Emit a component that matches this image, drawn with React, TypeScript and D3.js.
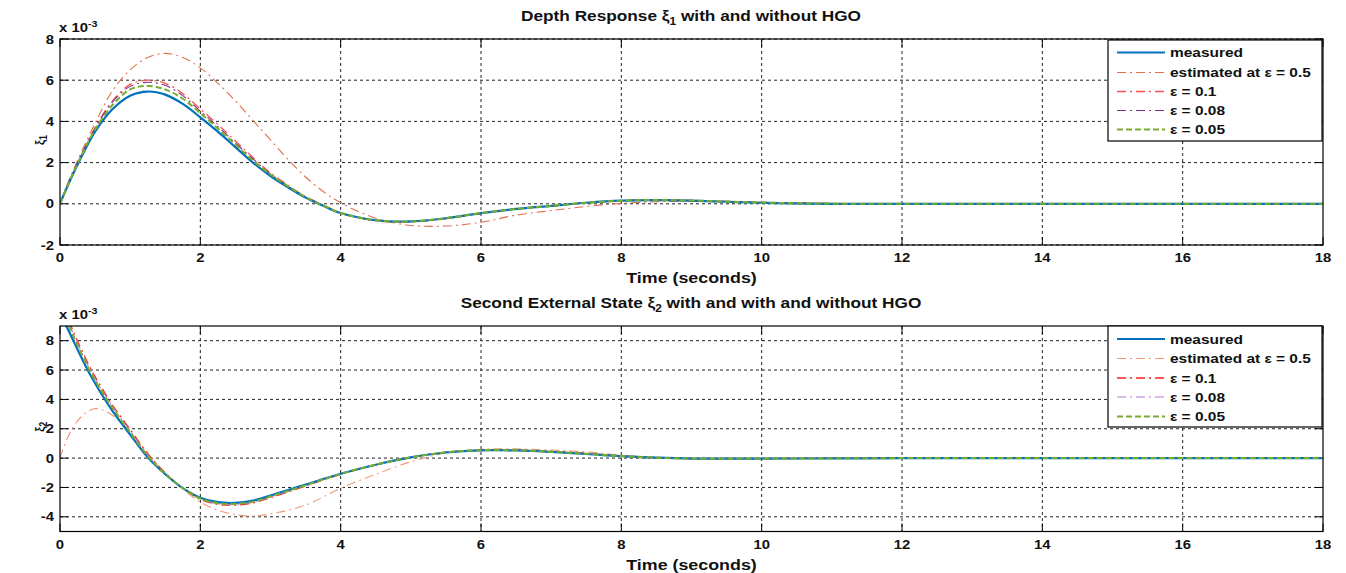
import React from "react";
import * as d3 from "d3";

// ---------- data: top panel (xi1, x 10^-3) ----------
const T1 = [0, 0.1, 0.25, 0.5, 0.75, 1.0, 1.25, 1.5, 1.75, 2.0, 2.25, 2.5, 2.75, 3.0, 3.25, 3.5, 3.75, 4.0, 4.5, 5.0, 5.5, 6.0, 6.5, 7.0, 7.5, 8.0, 8.5, 9.0, 9.5, 10, 11, 12, 14, 16, 18];
const xi1Measured = [0, 0.8, 1.9, 3.5, 4.6, 5.25, 5.45, 5.3, 4.85, 4.2, 3.5, 2.75, 2.0, 1.35, 0.8, 0.3, -0.1, -0.45, -0.8, -0.85, -0.7, -0.45, -0.25, -0.1, 0.05, 0.15, 0.18, 0.15, 0.1, 0.05, 0.0, 0, 0, 0, 0];
const xi1Est05 = [0, 0.9, 2.1, 3.9, 5.5, 6.5, 7.1, 7.3, 7.1, 6.6, 5.85, 5.0, 4.05, 3.1, 2.15, 1.3, 0.6, 0.05, -0.7, -1.05, -1.08, -0.9, -0.55, -0.33, -0.13, 0.02, 0.1, 0.12, 0.1, 0.06, 0.02, 0, 0, 0, 0];
const xi1Eps01 = [0, 0.85, 2.0, 3.7, 5.0, 5.8, 6.0, 5.85, 5.35, 4.6, 3.85, 3.05, 2.25, 1.5, 0.9, 0.35, -0.05, -0.45, -0.82, -0.88, -0.72, -0.47, -0.25, -0.1, 0.05, 0.15, 0.2, 0.17, 0.12, 0.07, 0.01, 0, 0, 0, 0];
const xi1Eps008 = [0, 0.85, 2.0, 3.65, 4.95, 5.7, 5.9, 5.75, 5.25, 4.5, 3.75, 2.95, 2.18, 1.45, 0.87, 0.33, -0.07, -0.45, -0.81, -0.87, -0.71, -0.46, -0.25, -0.1, 0.05, 0.15, 0.19, 0.16, 0.11, 0.06, 0.01, 0, 0, 0, 0];
const xi1Eps005 = [0, 0.82, 1.95, 3.6, 4.8, 5.55, 5.72, 5.55, 5.1, 4.4, 3.65, 2.88, 2.1, 1.42, 0.85, 0.32, -0.08, -0.45, -0.8, -0.86, -0.7, -0.45, -0.25, -0.1, 0.05, 0.15, 0.19, 0.16, 0.11, 0.06, 0.01, 0, 0, 0, 0];

// ---------- data: bottom panel (xi2, x 10^-3) ----------
const T2 = [0, 0.1, 0.2, 0.3, 0.4, 0.5, 0.6, 0.75, 1.0, 1.25, 1.5, 1.75, 2.0, 2.25, 2.5, 2.75, 3.0, 3.5, 4.0, 4.5, 5.0, 5.5, 6.0, 6.5, 7.0, 7.5, 8.0, 8.5, 9.0, 10, 11, 12, 14, 16, 18];
const xi2Measured = [9.8, 8.9, 7.9, 6.9, 5.95, 5.1, 4.3, 3.2, 1.6, 0.05, -1.1, -2.05, -2.7, -3.0, -3.05, -2.9, -2.55, -1.8, -1.07, -0.45, 0.05, 0.38, 0.53, 0.52, 0.42, 0.28, 0.13, 0.03, -0.03, -0.03, -0.02, 0, 0, 0, 0];
const xi2Est05 = [0, 1.3, 2.2, 2.8, 3.2, 3.37, 3.3, 2.9, 1.8, 0.3, -1.0, -2.1, -3.0, -3.55, -3.85, -3.95, -3.8, -3.2, -2.05, -1.1, -0.25, 0.35, 0.6, 0.63, 0.55, 0.42, 0.2, 0.05, 0, -0.02, -0.01, 0, 0, 0, 0];
const xi2Eps01 = [10.5, 9.7, 8.5, 7.45, 6.45, 5.55, 4.75, 3.6, 1.95, 0.3, -1.0, -2.05, -2.8, -3.15, -3.2, -3.05, -2.7, -1.9, -1.1, -0.45, 0.05, 0.4, 0.55, 0.55, 0.45, 0.32, 0.15, 0.03, -0.03, -0.03, -0.02, 0, 0, 0, 0];
const xi2Eps008 = [10.3, 9.5, 8.35, 7.3, 6.3, 5.4, 4.6, 3.5, 1.85, 0.22, -1.05, -2.05, -2.77, -3.1, -3.15, -3.0, -2.65, -1.87, -1.09, -0.45, 0.05, 0.39, 0.54, 0.54, 0.44, 0.3, 0.14, 0.03, -0.03, -0.03, -0.02, 0, 0, 0, 0];
const xi2Eps005 = [10.1, 9.3, 8.2, 7.15, 6.15, 5.3, 4.5, 3.4, 1.75, 0.15, -1.07, -2.05, -2.75, -3.07, -3.12, -2.97, -2.62, -1.85, -1.08, -0.45, 0.05, 0.39, 0.54, 0.53, 0.43, 0.29, 0.14, 0.03, -0.03, -0.03, -0.02, 0, 0, 0, 0];

const X_TICKS = [0, 2, 4, 6, 8, 10, 12, 14, 16, 18];
const Y1_TICKS = [-2, 0, 2, 4, 6, 8];
const Y2_TICKS = [-4, -2, 0, 2, 4, 6, 8];
const LEGEND_LABELS = ["measured", "estimated at \u03b5 = 0.5", "\u03b5 = 0.1", "\u03b5 = 0.08", "\u03b5 = 0.05"];

type Style = { color: string; width: number; dash: string };

const topStyles: Style[] = [
  { color: "#0072BD", width: 2.2, dash: "" },
  { color: "#E0714E", width: 1.1, dash: "9,4,2,4" },
  { color: "#FF5050", width: 1.3, dash: "9,4,2,4" },
  { color: "#7E2F8E", width: 1.1, dash: "9,4,2,4" },
  { color: "#77AC30", width: 2, dash: "6,3" },
];
const bottomStyles: Style[] = [
  { color: "#0072BD", width: 2.2, dash: "" },
  { color: "#EE9A78", width: 1.1, dash: "9,4,2,4" },
  { color: "#FF2020", width: 1.3, dash: "9,4,2,4" },
  { color: "#B878D0", width: 1.1, dash: "9,4,2,4" },
  { color: "#77AC30", width: 2, dash: "6,3" },
];

const FONT = "'Liberation Sans', Arial, sans-serif";
const SX = 1.19; // horizontal stretch of the original figure's text

function T(props: { x: number; y: number; size: number; anchor?: string; children: React.ReactNode }) {
  return (
    <text
      transform={`translate(${props.x},${props.y}) scale(${SX},1)`}
      textAnchor={props.anchor || "start"}
      fontFamily={FONT}
      fontWeight="bold"
      fontSize={props.size}
      fill="#111"
    >
      {props.children}
    </text>
  );
}

type PanelProps = {
  id: string;
  top: number;
  bottom: number;
  yDomain: [number, number];
  yTicks: number[];
  t: number[];
  series: number[][];
  styles: Style[];
  title: string;
  sub: string;
  legendTop: number;
  legendRowY: number[];
};

function Panel(p: PanelProps) {
  const left = 60;
  const right = 1323;
  const x = d3.scaleLinear().domain([0, 18]).range([left, right]);
  const y = d3.scaleLinear().domain(p.yDomain).range([p.bottom, p.top]);
  const line = d3
    .line<number>()
    .x((_, i) => x(p.t[i]))
    .y((v) => y(v))
    .curve(d3.curveCatmullRom.alpha(0.5));
  const drawOrder = [1, 2, 3, 0, 4];
  const legLeft = 1108;
  const legRight = 1322;
  const legBottom = p.legendTop + 101;
  const [t1, t2] = p.title.split("|");
  return (
    <g>
      <defs>
        <clipPath id={p.id}>
          <rect x={left} y={p.top} width={right - left} height={p.bottom - p.top} />
        </clipPath>
      </defs>
      <rect x={left} y={p.top} width={right - left} height={p.bottom - p.top} fill="#fff" />
      {/* grid */}
      {X_TICKS.slice(1, -1).map((v) => (
        <line key={"gx" + v} x1={x(v)} x2={x(v)} y1={p.top} y2={p.bottom} stroke="#222" strokeWidth={1} strokeDasharray="3,3" />
      ))}
      {p.yTicks.map((v) => (
        <line key={"gy" + v} x1={left} x2={right} y1={y(v)} y2={y(v)} stroke="#222" strokeWidth={1} strokeDasharray="3,3" />
      ))}
      {/* tick marks */}
      {X_TICKS.map((v) => (
        <g key={"tx" + v}>
          <line x1={x(v)} x2={x(v)} y1={p.bottom} y2={p.bottom - 8} stroke="#000" strokeWidth={1} />
          <line x1={x(v)} x2={x(v)} y1={p.top} y2={p.top + 8} stroke="#000" strokeWidth={1} />
        </g>
      ))}
      {p.yTicks.map((v) => (
        <g key={"ty" + v}>
          <line x1={left} x2={left + 8} y1={y(v)} y2={y(v)} stroke="#000" strokeWidth={1} />
          <line x1={right} x2={right - 8} y1={y(v)} y2={y(v)} stroke="#000" strokeWidth={1} />
        </g>
      ))}
      {/* curves */}
      <g clipPath={`url(#${p.id})`}>
        {drawOrder.map((k) => (
          <path
            key={"s" + k}
            d={line(p.series[k]) || ""}
            fill="none"
            stroke={p.styles[k].color}
            strokeWidth={p.styles[k].width}
            strokeDasharray={p.styles[k].dash}
          />
        ))}
      </g>
      <rect x={left} y={p.top} width={right - left} height={p.bottom - p.top} fill="none" stroke="#000" strokeWidth={1.2} />
      {/* tick labels */}
      {X_TICKS.map((v) => (
        <T key={"lx" + v} x={x(v)} y={p.bottom + 17} size={12.5} anchor="middle">
          {v}
        </T>
      ))}
      {p.yTicks.map((v) => (
        <T key={"ly" + v} x={left - 6} y={y(v) + 4.5} size={12.5} anchor="end">
          {v}
        </T>
      ))}
      {/* exponent */}
      <T x={left - 1} y={p.top - 7} size={12.5}>
        x 10
        <tspan dy={-5} fontSize={9}>-3</tspan>
      </T>
      {/* axis labels */}
      <T x={(left + right) / 2} y={p.bottom + 38} size={15} anchor="middle">
        Time (seconds)
      </T>
      <text transform={`translate(44,${(p.top + p.bottom) / 2 - 2}) rotate(-90) scale(1,1.15)`} textAnchor="middle" fontFamily={FONT} fontWeight="bold" fontSize={11.5} fill="#111">
        ξ<tspan dy={3} fontSize={9}>{p.sub}</tspan>
      </text>
      {/* title */}
      <T x={691} y={p.top - 18} size={14.5} anchor="middle">
        {t1}ξ<tspan dy={4} fontSize={10}>{p.sub}</tspan>
        <tspan dy={-4}>{t2}</tspan>
      </T>
      {/* legend */}
      <rect x={legLeft} y={p.legendTop} width={legRight - legLeft} height={legBottom - p.legendTop} fill="#fff" stroke="#000" strokeWidth={1.2} />
      {LEGEND_LABELS.map((lab, i) => (
        <g key={"lg" + i}>
          <line
            x1={1117}
            x2={1165}
            y1={p.legendRowY[i]}
            y2={p.legendRowY[i]}
            stroke={p.styles[i].color}
            strokeWidth={p.styles[i].width}
            strokeDasharray={p.styles[i].dash}
          />
          <T x={1170} y={p.legendRowY[i] + 4.5} size={13}>
            {lab}
          </T>
        </g>
      ))}
    </g>
  );
}

export default function App() {
  return (
    <svg width={1346} height={573} style={{ position: "absolute", left: 0, top: 0, background: "#fff" }}>
      <rect x={0} y={0} width={1346} height={573} fill="#fff" />
      <Panel
        id="clip1"
        top={39}
        bottom={245}
        yDomain={[-2, 8]}
        yTicks={Y1_TICKS}
        t={T1}
        series={[xi1Measured, xi1Est05, xi1Eps01, xi1Eps008, xi1Eps005]}
        styles={topStyles}
        title={"Depth Response | with and without HGO"}
        sub="1"
        legendTop={40}
        legendRowY={[52.5, 72.5, 91.5, 110.5, 129.5]}
      />
      <Panel
        id="clip2"
        top={326}
        bottom={531.5}
        yDomain={[-5, 9]}
        yTicks={Y2_TICKS}
        t={T2}
        series={[xi2Measured, xi2Est05, xi2Eps01, xi2Eps008, xi2Eps005]}
        styles={bottomStyles}
        title={"Second External State | with and with and without HGO"}
        sub="2"
        legendTop={326}
        legendRowY={[339, 358.5, 378, 397, 416.5]}
      />
    </svg>
  );
}
